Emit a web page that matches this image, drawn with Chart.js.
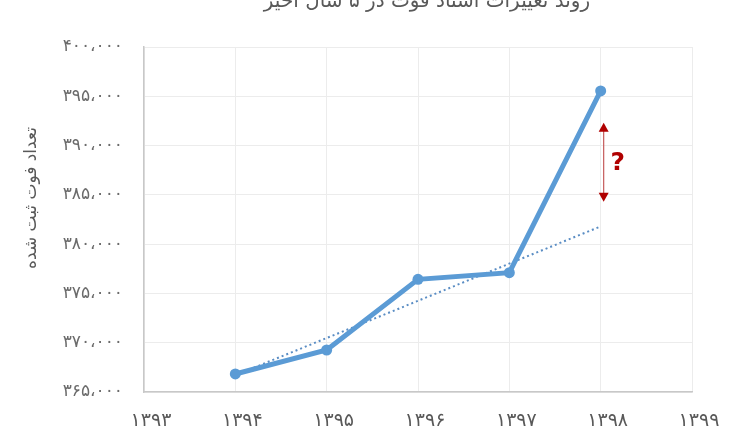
<!DOCTYPE html>
<html>
<head>
<meta charset="utf-8">
<script src="https://cdn.jsdelivr.net/npm/chart.js@4"></script>
<style>
    html, body { margin: 0; padding: 0; background: #fff; }
    #wrap { width: 750px; height: 430px; }
</style>
</head>
<body>
<div id="wrap"><canvas id="chart" width="750" height="430"></canvas></div>
<script>
const years = [1394, 1395, 1396, 1397, 1398];
const deaths = [366830, 369260, 376430, 377100, 395540];
const trendYears = [1394, 1398];
const trendValues = [366700, 381800];
const arrowYear = 1398;
const arrowRange = [392100, 384500];
const chartTitle = 'روند تغییرات اسناد فوت در ۵ سال اخیر';
const yTitle = 'تعداد فوت ثبت شده';

const faDigits = '۰۱۲۳۴۵۶۷۸۹';
function toFa(n, sep) {
    let s = String(Math.round(n));
    if (sep) s = s.replace(/\B(?=(\d{3})+(?!\d))/g, '،');
    return s.replace(/\d/g, d => faDigits[d]);
}

const textColor = '#595959';
const fontFamily = "'DejaVu Sans', sans-serif";

const extras = {
    id: 'extras',
    afterDatasetsDraw(chart) {
        const ctx = chart.ctx;
        const x = chart.scales.x;
        const y = chart.scales.y;
        ctx.save();
        // title, cut at the top edge
        ctx.fillStyle = textColor;
        ctx.font = '20px ' + fontFamily;
        ctx.textAlign = 'center';
        ctx.textBaseline = 'alphabetic';
        ctx.fillText(chartTitle, 427, 7);

        // y axis title
        ctx.save();
        ctx.translate(32, 198);
        ctx.rotate(-Math.PI / 2);
        ctx.font = '17px ' + fontFamily;
        ctx.textBaseline = 'middle';
        ctx.fillText(yTitle, 0, 0);
        ctx.restore();

        // red double arrow
        const ax = x.getPixelForValue(arrowYear) + 3;
        const y1 = y.getPixelForValue(arrowRange[0]);
        const y2 = y.getPixelForValue(arrowRange[1]);
        ctx.strokeStyle = '#c55a5a';
        ctx.lineWidth = 1.2;
        ctx.beginPath();
        ctx.moveTo(ax, y1 + 6);
        ctx.lineTo(ax, y2 - 6);
        ctx.stroke();
        ctx.fillStyle = '#b00000';
        ctx.beginPath();
        ctx.moveTo(ax, y1 - 2);
        ctx.lineTo(ax - 5, y1 + 7);
        ctx.lineTo(ax + 5, y1 + 7);
        ctx.closePath();
        ctx.fill();
        ctx.beginPath();
        ctx.moveTo(ax, y2 + 2);
        ctx.lineTo(ax - 5, y2 - 7);
        ctx.lineTo(ax + 5, y2 - 7);
        ctx.closePath();
        ctx.fill();

        ctx.font = 'bold 25px ' + fontFamily;
        ctx.textAlign = 'center';
        ctx.textBaseline = 'middle';
        ctx.fillText('?', ax + 14, (y1 + y2) / 2 + 1);
        ctx.restore();
    }
};

new Chart(document.getElementById('chart'), {
    type: 'line',
    data: {
        datasets: [
            {
                data: years.map((yr, i) => ({ x: yr, y: deaths[i] })),
                borderColor: '#5b9bd5',
                backgroundColor: '#5b9bd5',
                borderWidth: 5,
                pointRadius: 5.5,
                pointBorderWidth: 0,
                tension: 0
            },
            {
                data: trendYears.map((yr, i) => ({ x: yr, y: trendValues[i] })),
                borderColor: '#5a8dc4',
                borderWidth: 2,
                borderDash: [2, 3],
                pointRadius: 0,
                tension: 0
            }
        ]
    },
    options: {
        responsive: false,
        animation: false,
        events: [],
        layout: { padding: { top: 47, right: 58, bottom: 0, left: 0 } },
        plugins: {
            legend: { display: false },
            tooltip: { enabled: false }
        },
        scales: {
            x: {
                type: 'linear',
                min: 1393,
                max: 1399,
                grid: { color: '#ececec', lineWidth: 1, drawTicks: false },
                border: { color: '#c8c8c8', width: 1.5 },
                ticks: {
                    stepSize: 1,
                    padding: 18,
                    labelOffset: 7,
                    color: textColor,
                    font: { family: fontFamily, size: 19 },
                    callback: v => toFa(v, false)
                },
                afterFit: s => { s.height = 38; }
            },
            y: {
                min: 365000,
                max: 400000,
                grid: { color: '#ececec', lineWidth: 1, drawTicks: false },
                border: { color: '#c8c8c8', width: 1.5 },
                ticks: {
                    stepSize: 5000,
                    padding: 21,
                    color: '#6b6b6b',
                    font: { family: fontFamily, size: 17 },
                    callback: v => toFa(v, true)
                },
                afterFit: s => { s.width = 144; }
            }
        }
    },
    plugins: [extras]
});
</script>
</body>
</html>
